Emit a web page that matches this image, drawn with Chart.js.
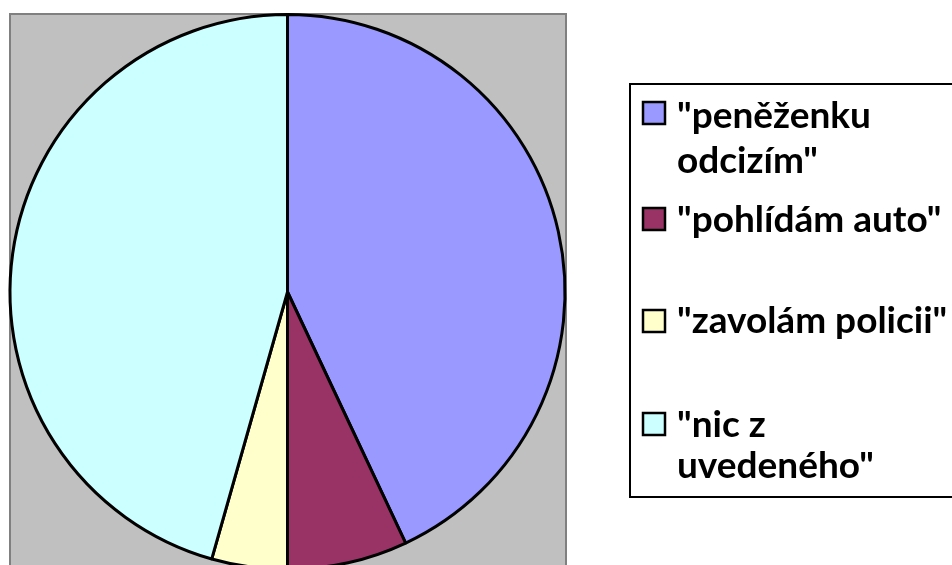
<!DOCTYPE html>
<html lang="cs">
<head>
    <meta charset="UTF-8">
    <title>Koláčový graf</title>
    <script src="https://cdn.jsdelivr.net/npm/chart.js"></script>
    <style>
      body { margin: 0; background: #fff; }
      #wrap { width: 952px; height: 565px; overflow: hidden; position: relative; }
      #wrap canvas { display: block; }
    </style>
</head>
<body>
    <div id="wrap"><canvas id="pieChart" width="952" height="600"></canvas></div>
    <script>
        // labels split into the lines they are shown on in the legend
        const labels = [
            ['"peněženku', 'odcizím"'],
            ['"pohlídám auto"'],
            ['"zavolám policii"'],
            ['"nic z', 'uvedeného"']
        ];
        const values = [43, 7, 4.4, 45.6];
        const colors = ['#9999FF', '#993366', '#FFFFCC', '#CCFFFF'];

        // grey plot area behind the pie
        const plotArea = {
            id: 'plotArea',
            beforeDraw(chart) {
                const ctx = chart.ctx;
                ctx.save();
                ctx.fillStyle = '#C0C0C0';
                ctx.fillRect(10, 14, 556, 600);
                ctx.strokeStyle = '#808080';
                ctx.lineWidth = 2;
                ctx.strokeRect(10, 14, 556, 600);
                ctx.restore();
            }
        };

        // legend box on the right, drawn from the chart's own labels/colours
        const boxLegend = {
            id: 'boxLegend',
            afterDraw(chart) {
                const ctx = chart.ctx;
                const ds = chart.data.datasets[0];
                const rows = [
                    { sq: 102, base: [128, 173] },
                    { sq: 208, base: [232] },
                    { sq: 310, base: [333] },
                    { sq: 413, base: [437, 478] }
                ];
                ctx.save();
                ctx.fillStyle = '#fff';
                ctx.fillRect(630, 84, 340, 413);
                ctx.strokeStyle = '#000';
                ctx.lineWidth = 2;
                ctx.strokeRect(630, 84, 340, 413);
                ctx.font = 'bold 37px Lato';
                ctx.textBaseline = 'alphabetic';
                chart.data.labels.forEach((lab, i) => {
                    const r = rows[i];
                    ctx.fillStyle = ds.backgroundColor[i];
                    ctx.fillRect(643, r.sq, 22, 22);
                    ctx.strokeStyle = '#000';
                    ctx.lineWidth = 2.5;
                    ctx.strokeRect(643, r.sq, 22, 22);
                    ctx.fillStyle = '#000';
                    lab.forEach((line, j) => ctx.fillText(line, 677, r.base[j]));
                });
                ctx.restore();
            }
        };

        const ctx = document.getElementById('pieChart').getContext('2d');
        const chart = new Chart(ctx, {
            type: 'pie',
            data: {
                labels: labels,
                datasets: [{
                    data: values,
                    backgroundColor: colors,
                    borderColor: '#000',
                    borderWidth: 3
                }]
            },
            options: {
                responsive: false,
                animation: false,
                layout: { padding: { left: 8.5, right: 385.5, top: 13, bottom: 29 } },
                plugins: {
                    legend: { display: false },
                    tooltip: { enabled: false }
                }
            },
            plugins: [plotArea, boxLegend]
        });
    </script>
</body>
</html>
